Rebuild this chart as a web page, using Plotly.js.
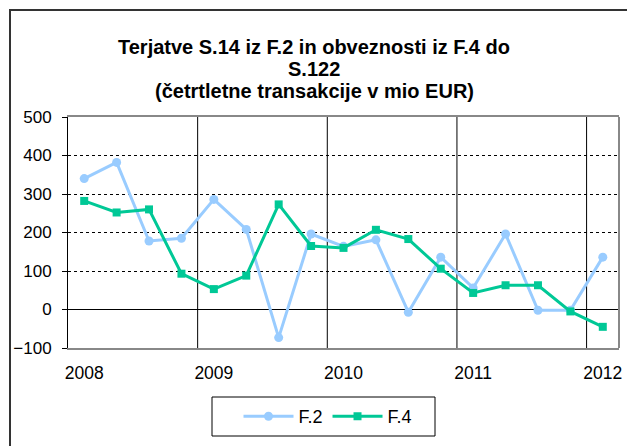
<!DOCTYPE html>
<html>
<head>
<meta charset="utf-8">
<script src="https://cdn.plot.ly/plotly-3.0.1.min.js"></script>
<style>
  html, body { margin: 0; padding: 0; background: #fff; overflow: hidden; }
  #wrap { position: relative; width: 627px; height: 446px; }
  #chart { position: absolute; left: 0; top: 0; width: 627px; height: 446px; }
  #frame { position: absolute; left: 9px; top: 9px; width: 800px; height: 600px;
           border-left: 2px solid #333; border-top: 2px solid #333; pointer-events: none; }
</style>
</head>
<body>
<div id="wrap">
  <div id="chart"></div>
  <div id="frame"></div>
</div>
<script>
// Quarterly data 2008Q1 .. 2012Q1 (17 quarters)
const quarters = ["2008 Q1","2008 Q2","2008 Q3","2008 Q4","2009 Q1","2009 Q2","2009 Q3","2009 Q4",
                  "2010 Q1","2010 Q2","2010 Q3","2010 Q4","2011 Q1","2011 Q2","2011 Q3","2011 Q4","2012 Q1"];
const f2 = [340, 382, 178, 185, 286, 208, -73, 196, 164, 181, -7, 136, 56, 196, -2, -2, 136];
const f4 = [282, 252, 260, 93, 53, 88, 273, 165, 160, 207, 183, 106, 43, 63, 63, -5, -45];
const yearLabels = ["2008", "2009", "2010", "2011", "2012"];
const seriesNames = ["F.2", "F.4"];
const titleLines = ["Terjatve S.14 iz F.2 in obveznosti iz F.4 do", "S.122", "(četrtletne transakcije v mio EUR)"];

const idx = quarters.map((q, i) => i);
const labelPos = idx.filter(i => i % 4 === 0);
const boundaries = idx.filter(i => i % 4 === 3).map(i => i + 0.5);

const FONT = 'Arial, "Liberation Sans", sans-serif';

// plot-area geometry in pixels
const L = 68, R = 8, T = 117, B = 98, W = 627, H = 446;
const pw = W - L - R, ph = H - T - B;
const px = x => (x - L) / pw;          // pixel -> paper x
const py = y => (H - B - y) / ph;      // pixel -> paper y

const traces = [
  { x: idx, y: f2, name: seriesNames[0], type: 'scatter', mode: 'lines+markers',
    line: { color: '#99CCFF', width: 3 },
    marker: { symbol: 'circle', size: 9, color: '#99CCFF' } },
  { x: idx, y: f4, name: seriesNames[1], type: 'scatter', mode: 'lines+markers',
    line: { color: '#00C896', width: 3 },
    marker: { symbol: 'square', size: 8, color: '#00C896' } }
];

const shapes = boundaries.map(b => ({
  type: 'line', xref: 'x', yref: 'paper', x0: b, x1: b, y0: 0, y1: 1,
  line: { color: '#000', width: 1 }, layer: 'below'
}));
shapes.push({ type: 'line', xref: 'paper', yref: 'paper', x0: 1, x1: 1, y0: 0, y1: 1,
  line: { color: '#888', width: 2 }, layer: 'above' });
// legend box
shapes.push({ type: 'rect', xref: 'paper', yref: 'paper',
  x0: px(212), x1: px(435), y0: py(397), y1: py(436),
  line: { color: '#000', width: 1 }, fillcolor: 'rgba(0,0,0,0)', layer: 'above' });

const titleY = [47, 69, 91];
const annotations = titleLines.map((t, i) => ({
  text: '<b>' + t + '</b>', xref: 'paper', yref: 'paper',
  x: px(314), y: py(titleY[i]), xanchor: 'center', yanchor: 'middle',
  showarrow: false, font: { family: FONT, size: 20, color: '#000' }
}));

const layout = {
  width: W, height: H,
  margin: { l: L, r: R, t: T, b: B },
  paper_bgcolor: 'rgba(0,0,0,0)',
  plot_bgcolor: '#fff',
  font: { family: FONT, size: 17, color: '#000' },
  xaxis: {
    range: [-0.5, quarters.length - 0.5],
    tickvals: labelPos, ticktext: yearLabels,
    showgrid: false, zeroline: false,
    showline: true, linecolor: '#888', linewidth: 2, mirror: true,
    ticks: '', ticklabelstandoff: 8,
    tickfont: { family: FONT, size: 17.5, color: '#000' }
  },
  yaxis: {
    range: [-100, 500], dtick: 100, tick0: 0,
    showgrid: true, gridcolor: '#000', gridwidth: 1, griddash: 'dot',
    zeroline: true, zerolinecolor: '#000', zerolinewidth: 1,
    showline: true, linecolor: '#000', linewidth: 1,
    ticks: 'outside', ticklen: 5, tickcolor: '#000', tickwidth: 1,
    ticklabelstandoff: 7,
    tickfont: { family: FONT, size: 17, color: '#000' }
  },
  showlegend: true,
  legend: {
    orientation: 'h', x: px(328), xanchor: 'center', y: py(416.5), yanchor: 'middle',
    borderwidth: 0, bgcolor: 'rgba(0,0,0,0)', itemwidth: 50,
    font: { family: FONT, size: 18, color: '#000' }
  },
  annotations: annotations,
  shapes: shapes
};

Plotly.newPlot('chart', traces, layout, { displayModeBar: false, staticPlot: true });
</script>
</body>
</html>
